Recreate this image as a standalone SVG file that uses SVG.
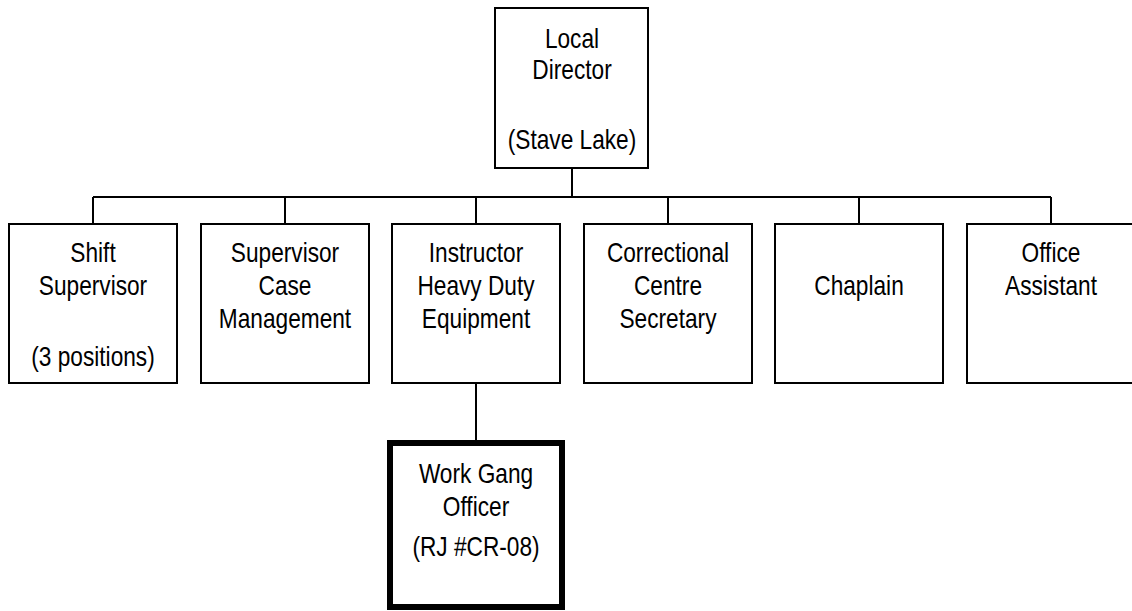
<svg xmlns="http://www.w3.org/2000/svg" width="1132" height="611" viewBox="0 0 1132 611">
<style>
.box{fill:#fff;stroke:#000;stroke-width:2}
.thick{fill:#fff;stroke:#000;stroke-width:6}
.lbl{font-family:"Liberation Sans",Arial,sans-serif;font-size:28px;fill:#000;text-anchor:middle}
.conn{stroke:#000;stroke-width:2;fill:none}
</style>
<rect width="1132" height="611" fill="#fff"/>
<g id="connectors">
<path class="conn" d="M572 168V197M93 197H1051M93 197V224M285 197V224M476 197V224M668 197V224M859 197V224M1051 197V224M476 383V443"/>
</g>
<g id="director">
<rect class="box" x="495" y="8" width="153" height="160"/>
<g transform="translate(572,0) scale(0.81,1)">
<text class="lbl" x="0" y="48">Local</text>
<text class="lbl" x="0" y="79">Director</text>
<text class="lbl" x="0" y="149">(Stave Lake)</text>
</g>
</g>
<g id="shift">
<rect class="box" x="9" y="224" width="168" height="159"/>
<g transform="translate(93,0) scale(0.81,1)">
<text class="lbl" x="0" y="262">Shift</text>
<text class="lbl" x="0" y="295">Supervisor</text>
<text class="lbl" x="0" y="366">(3 positions)</text>
</g>
</g>
<g id="casemgmt">
<rect class="box" x="201" y="224" width="168" height="159"/>
<g transform="translate(285,0) scale(0.81,1)">
<text class="lbl" x="0" y="262">Supervisor</text>
<text class="lbl" x="0" y="295">Case</text>
<text class="lbl" x="0" y="328">Management</text>
</g>
</g>
<g id="instructor">
<rect class="box" x="392" y="224" width="168" height="159"/>
<g transform="translate(476,0) scale(0.81,1)">
<text class="lbl" x="0" y="262">Instructor</text>
<text class="lbl" x="0" y="295">Heavy Duty</text>
<text class="lbl" x="0" y="328">Equipment</text>
</g>
</g>
<g id="secretary">
<rect class="box" x="584" y="224" width="168" height="159"/>
<g transform="translate(668,0) scale(0.81,1)">
<text class="lbl" x="0" y="262">Correctional</text>
<text class="lbl" x="0" y="295">Centre</text>
<text class="lbl" x="0" y="328">Secretary</text>
</g>
</g>
<g id="chaplain">
<rect class="box" x="775" y="224" width="168" height="159"/>
<g transform="translate(859,0) scale(0.81,1)">
<text class="lbl" x="0" y="295">Chaplain</text>
</g>
</g>
<g id="office">
<rect class="box" x="967" y="224" width="168" height="159"/>
<g transform="translate(1051,0) scale(0.81,1)">
<text class="lbl" x="0" y="262">Office</text>
<text class="lbl" x="0" y="295">Assistant</text>
</g>
</g>
<g id="workgang">
<rect class="thick" x="390" y="443" width="172" height="164"/>
<g transform="translate(476,0) scale(0.81,1)">
<text class="lbl" x="0" y="483">Work Gang</text>
<text class="lbl" x="0" y="516">Officer</text>
<text class="lbl" x="0" y="556">(RJ #CR-08)</text>
</g>
</g>
</svg>
